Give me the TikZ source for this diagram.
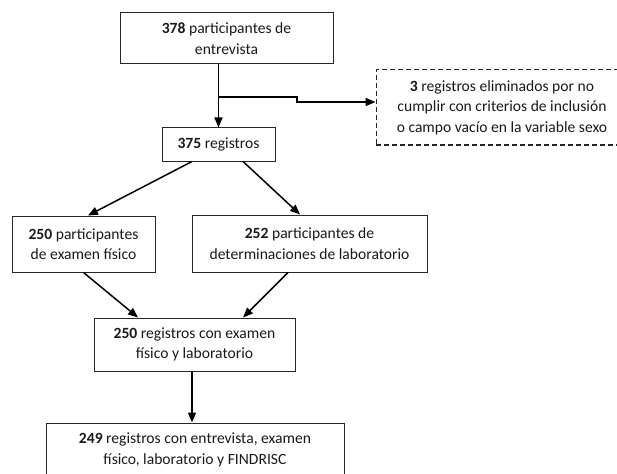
\documentclass[tikz,border=0pt]{standalone}
\usepackage{fontspec}
\setmainfont{Carlito}
\usepackage{tikz}
\usetikzlibrary{arrows.meta}

\begin{document}
\begin{tikzpicture}[x=1pt, y=1pt,
  box/.style={draw=black!85, line width=1pt, align=center, inner sep=0pt,
    font=\fontsize{15.6}{20.5}\selectfont, text=black!90},
  arr/.style={line width=1.5pt, -{Triangle[length=10pt, width=8pt]}}]
\useasboundingbox (0,0) rectangle (617,-473);
\clip (0,0) rectangle (617,-473);
\node[box, minimum width=213pt, minimum height=51pt] (inter) at (226.5,-38.5) {\textbf{378} participantes de\\entrevista};
\node[box, dashed, dash pattern=on 5pt off 3pt, minimum width=252pt, minimum height=75pt] (elim) at (502,-107.5) {\textbf{3} registros eliminados por no\\cumplir con criterios de inclusión\\o campo vacío en la variable sexo};
\node[box, minimum width=113pt, minimum height=33pt] (reg) at (218.5,-144.5) {\textbf{375} registros};
\node[box, minimum width=143pt, minimum height=56pt] (fis) at (83.5,-244) {\textbf{250} participantes\\de examen físico};
\node[box, minimum width=235pt, minimum height=57pt] (lab) at (309.5,-243.5) {\textbf{252} participantes de\\determinaciones de laboratorio};
\node[box, minimum width=201pt, minimum height=53pt] (both) at (194.5,-344.5) {\textbf{250} registros con examen\\físico y laboratorio};
\node[box, minimum width=298pt, minimum height=54pt] (final) at (195,-450) {\textbf{249} registros con entrevista, examen\\físico, laboratorio y FINDRISC};
% salida lateral
\coordinate (split) at (219,-97);
\coordinate (jog) at (297,-97);
\draw[arr] (reg.north |- inter.south) -- (reg.north);
\draw[arr] (split) -- (jog) |- ([yshift=5.5pt]elim.west);
\draw[arr] ([xshift=-26.5pt]reg.south) -- ([xshift=4.5pt]fis.north);
\draw[arr] ([xshift=24.5pt]reg.south) -- ([xshift=-9.5pt]lab.north);
\draw[arr] (fis.south) -- ([xshift=-56.5pt]both.north);
\draw[arr] ([xshift=-21.5pt]lab.south) -- ([xshift=48.5pt]both.north);
\draw[arr] ([xshift=-2.5pt]both.south) -- ([xshift=-2.5pt]both.south |- final.north);
\end{tikzpicture}
\end{document}
